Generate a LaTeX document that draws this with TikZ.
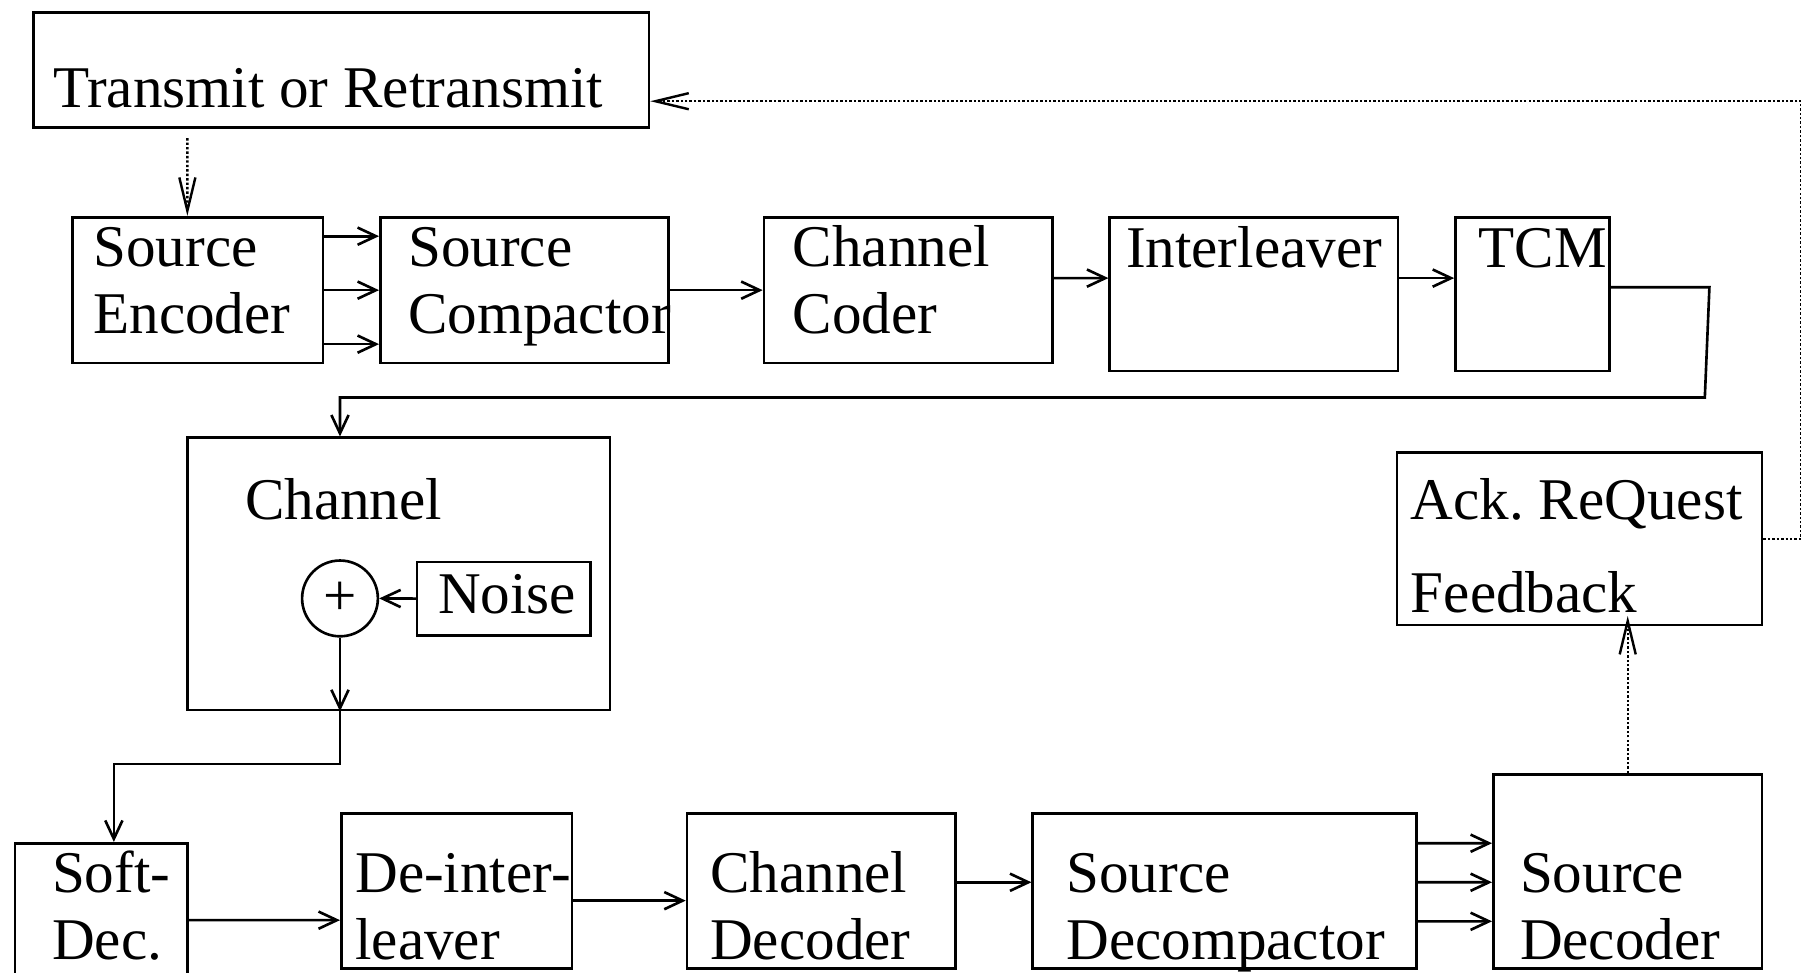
\documentclass[tikz,border=0pt]{standalone}
\usepackage{fontspec}
\setmainfont{Liberation Serif}
\usetikzlibrary{arrows.meta}

\begin{document}
\begin{tikzpicture}[
  x=0.02cm, y=-0.02cm,
  font=\fontsize{29.3}{33}\selectfont,
  box/.style={draw, line width=1.3pt, inner sep=0pt, anchor=north west},
  lbl/.style={anchor=base west, align=left, inner sep=0pt},
  arr/.style={line width=1.3pt, -{Straight Barb[length=3.2mm,width=3mm]}},
  fb/.style={line width=1.2pt, densely dotted, -{Straight Barb[length=5.8mm,width=2.8mm]}}
]
\useasboundingbox (0,0) rectangle (1568,847);

% transmitter
\node[box, minimum width=10.72cm, minimum height=2cm] (trans) at (28,10) {};
\node[lbl] (transT) at (46,94) {Transmit or Retransmit};

\node[box, minimum width=4.36cm, minimum height=2.54cm] (enc) at (62,188) {};
\node[lbl] (encT) at (81,290) {Source\\Encoder};
\node[box, minimum width=5.02cm, minimum height=2.54cm] (cmp) at (330,188) {};
\node[lbl] (cmpT) at (355,290) {Source\\Compactor};
\node[box, minimum width=5.02cm, minimum height=2.54cm] (cc) at (664,188) {};
\node[lbl] (ccT) at (690,290) {Channel\\Coder};
\node[box, minimum width=5.02cm, minimum height=2.68cm] (intl) at (965,188) {};
\node[lbl] (intlT) at (980,233) {Interleaver};
\node[box, minimum width=2.68cm, minimum height=2.68cm] (tcm) at (1266,188) {};
\node[lbl] (tcmT) at (1287,233) {TCM};

% channel
\node[box, minimum width=7.36cm, minimum height=4.74cm] (chan) at (162,380) {};
\node[lbl] (chanT) at (213,452) {Channel};
\node[draw, line width=1.3pt, circle, inner sep=0pt, minimum size=1.32cm] (sum) at (296,521) {+};
\node[box, minimum width=3.02cm, minimum height=1.28cm] (noise) at (362,488) {};
\node[lbl] (noiseT) at (381,534) {Noise};

% receiver
\node[box, minimum width=6.36cm, minimum height=3cm] (ack) at (1215,393) {};
\node[lbl] (ackT) at (1228,533) {Ack.\ ReQuest\\[13pt]Feedback};
\node[box, minimum width=3cm, minimum height=2.8cm] (soft) at (12,733) {};
\node[lbl] (softT) at (45,835) {Soft-\\Dec.};
\node[box, minimum width=4.02cm, minimum height=2.7cm] (dint) at (296,707) {};
\node[lbl] (dintT) at (309,835) {De-inter-\\leaver};
\node[box, minimum width=4.68cm, minimum height=2.7cm] (cd) at (597,707) {};
\node[lbl] (cdT) at (618,835) {Channel\\Decoder};
\node[box, minimum width=6.68cm, minimum height=2.7cm] (sdc) at (898,707) {};
\node[lbl] (sdcT) at (928,835) {Source\\Decompactor};
\node[box, minimum width=4.68cm, minimum height=3.38cm] (sdec) at (1299,673) {};
\node[lbl] (sdecT) at (1323,835) {Source\\Decoder};

% forward path
\foreach \dy in {0.94,0,-0.94}
  \draw[arr] ([yshift=\dy cm]enc.east) -- ([yshift=\dy cm]cmp.west);
\draw[arr] (cmp) -- (cc);
\draw[arr] ([yshift=0.21cm]cc.east) -- ([yshift=0.28cm]intl.west);
\draw[arr] ([yshift=0.28cm]intl.east) -- ([yshift=0.28cm]tcm.west);
\draw[arr] ([yshift=0.12cm]tcm.east) -- ++(86,0) -- ++(-4,96) -| (sum |- chan.north);
\draw[arr] (noise.west) -- (sum.east);
\draw[arr] (sum) -- (sum |- chan.south);
\draw[arr] (sum |- chan.south) -- ++(0,46) -| ([xshift=0.22cm]soft.north);
\draw[arr] ([yshift=0.06cm]soft.east) -- ([yshift=-0.51cm]dint.west);
\draw[arr] ([yshift=-0.17cm]dint.east) -- ([yshift=-0.17cm]cd.west);
\draw[arr] ([yshift=0.15cm]cd.east) -- ([yshift=0.15cm]sdc.west);
\foreach \a/\b in {0.83/0.49,0.15/-0.19,-0.53/-0.87}
  \draw[arr] ([yshift=\a cm]sdc.east) -- ([yshift=\b cm]sdec.west);

% feedback
\draw[fb, shorten >=-0.18cm] (sdec.north) -- (sdec.north |- ack.south);
\draw[fb] (ack.east) -- ++(33,0) |- ([yshift=-0.54cm]trans.east);
\draw[fb, shorten <=0.16cm] ([xshift=-2.68cm]trans.south) -- ([xshift=-0.18cm]enc.north);
\end{tikzpicture}
\end{document}
